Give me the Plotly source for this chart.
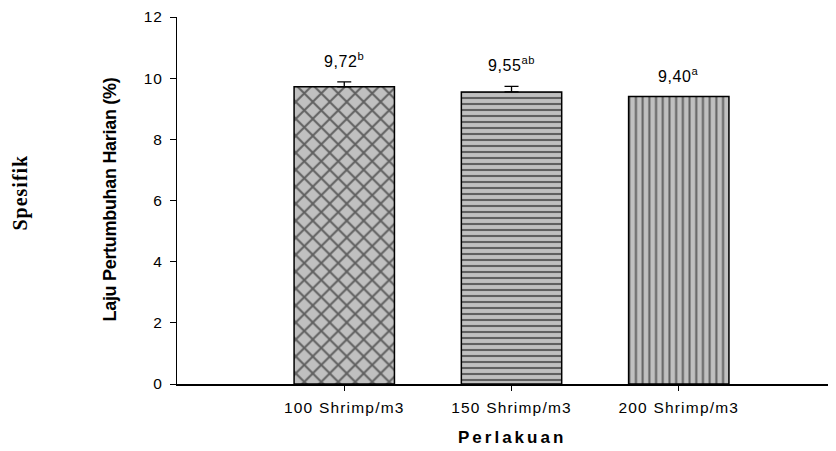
import plotly.graph_objects as go

categories = ["100 Shrimp/m3", "150 Shrimp/m3", "200 Shrimp/m3"]
values = [9.72, 9.55, 9.40]
errors = [0.16, 0.18, 0.0]
letters = ["b", "ab", "a"]
value_labels = ["9,72", "9,55", "9,40"]
patterns = ["x", "-", "|"]
y_ticks = [0, 2, 4, 6, 8, 10, 12]

# page body has an 8px margin; compensate so the figure lands like the reference
OFF = 8
W, H = 836 - OFF, 451 - OFF
ML, MR, MT, MB = 177 - OFF, 0, 14 - OFF, 67
PH = H - MT - MB
PW = W - ML - MR


def px_x(x):
    return (x - OFF - ML) / PW


def px_y(y):
    return (H - MB - (y - OFF)) / PH


def spaced(t, s):
    return f"<span style='letter-spacing:{s}px'>{t}</span>"


fig = go.Figure()
for i, c in enumerate(categories):
    fig.add_trace(go.Bar(
        x=[i], y=[values[i]],
        width=0.6,
        marker=dict(
            color="#c0c0c0",
            line=dict(color="black", width=1.5),
            pattern=dict(shape=patterns[i], fgcolor="black", bgcolor="#c0c0c0",
                         size=[12, 6, 6.7][i], solidity=[0.3, 0.35, 0.3][i],
                         fillmode="overlay"),
        ),
        error_y=dict(type="data", symmetric=False, array=[errors[i]], arrayminus=[0],
                     visible=errors[i] > 0, color="black", thickness=1.3, width=7),
        showlegend=False,
        hoverinfo="skip",
    ))
    fig.add_annotation(
        x=i, y=values[i] + errors[i], xref="x", yref="y",
        text=spaced(f"{value_labels[i]}<sup>{letters[i]}</sup>", 0.6),
        showarrow=False, yanchor="bottom", yshift=10,
        font=dict(family="Liberation Sans, Arial", size=16, color="black"),
    )

fig.add_annotation(
    xref="paper", yref="paper", x=px_x(110), y=px_y(198),
    text="<b>" + spaced("Laju Pertumbuhan Harian (%)", -0.3) + "</b>",
    textangle=-90, showarrow=False, xanchor="center", yanchor="middle",
    font=dict(family="Liberation Sans, Arial", size=18, color="black"),
)
fig.add_annotation(
    xref="paper", yref="paper", x=px_x(21), y=px_y(191),
    text="<b>" + spaced("Spesifik", 1) + "</b>",
    textangle=-90, showarrow=False, xanchor="center", yanchor="middle",
    font=dict(family="Liberation Serif, Times New Roman", size=20, color="black"),
)
fig.add_annotation(
    xref="paper", yref="paper", x=px_x(512), y=px_y(438),
    text="<b>" + spaced("Perlakuan", 3) + "</b>",
    showarrow=False, xanchor="center", yanchor="middle",
    font=dict(family="Liberation Sans, Arial", size=17, color="black"),
)

tickfont = dict(family="Liberation Sans, Arial", size=15.5, color="black")
fig.update_layout(
    width=W, height=H,
    margin=dict(l=ML, r=MR, t=MT, b=MB, pad=0),
    plot_bgcolor="white", paper_bgcolor="white",
    xaxis=dict(
        range=[-1, 2.94], tickmode="array", tickvals=[0, 1, 2],
        ticktext=[spaced(c, 1.2) for c in categories],
        showline=True, linecolor="black", linewidth=1.5,
        ticks="outside", ticklen=5, tickcolor="black", tickwidth=1,
        showgrid=False, zeroline=False, ticklabelstandoff=4,
        tickfont=tickfont, ticklabeloverflow="allow",
    ),
    yaxis=dict(
        range=[0, 12], tickmode="array", tickvals=y_ticks,
        ticktext=[spaced(str(v), 1.0) for v in y_ticks],
        showline=True, linecolor="black", linewidth=1,
        ticks="outside", ticklen=6, tickcolor="black", tickwidth=1,
        showgrid=False, zeroline=False, ticklabelstandoff=4,
        tickfont=tickfont, ticklabeloverflow="allow",
    ),
)

fig.write_html("out.html")
